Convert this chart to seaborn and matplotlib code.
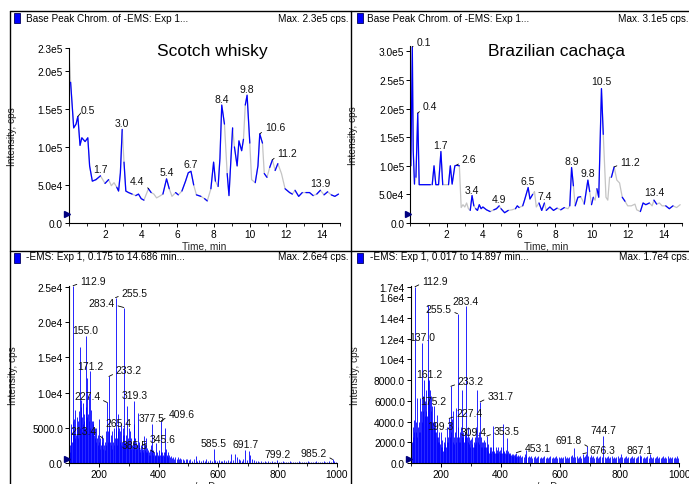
import numpy as np
import pandas as pd
import seaborn as sns
import matplotlib.pyplot as plt
import matplotlib.transforms as mtransforms
from matplotlib.lines import Line2D
from matplotlib.patches import Rectangle
from matplotlib.ticker import FuncFormatter, MultipleLocator

# ---- chromatogram: Scotch whisky ----
whisky_t = [
    0.0, 0.1, 0.2, 0.27, 0.4, 0.5, 0.62, 0.72, 0.9, 1.05,
    1.15, 1.3, 1.5, 1.75, 2.0, 2.2, 2.35, 2.5, 2.65, 2.75,
    2.85, 2.95, 3.05, 3.15, 3.3, 3.5, 3.7, 3.85, 4.0, 4.15,
    4.4, 4.55, 4.7, 4.85, 5.0, 5.2, 5.4, 5.55, 5.7, 5.9,
    6.05, 6.25, 6.45, 6.6, 6.75, 6.9, 7.05, 7.3, 7.5, 7.65,
    7.85, 8.0, 8.1, 8.25, 8.35, 8.45, 8.6, 8.75, 8.85, 9.05,
    9.15, 9.3, 9.4, 9.55, 9.65, 9.75, 9.85, 10.0, 10.1, 10.3,
    10.45, 10.55, 10.7, 10.8, 10.95, 11.1, 11.25, 11.4, 11.55, 11.75,
    11.95, 12.2, 12.35, 12.5, 12.7, 12.9, 13.1, 13.3, 13.5, 13.7,
    13.9, 14.1, 14.3, 14.5, 14.7, 14.9,
]
whisky_i = [
    2.3e5, 1.85e5, 1.5e5, 1.25e5, 1.3e5, 1.4e5, 1.02e5, 1.12e5, 1.07e5, 1.12e5,
    7.5e4, 5.5e4, 5.7e4, 6.2e4, 5.2e4, 5.7e4, 4.9e4, 5.3e4, 4.7e4, 4.2e4,
    6.6e4, 1.23e5, 8.0e4, 4.2e4, 4.0e4, 3.8e4, 3.6e4, 3.8e4, 3.2e4, 3.0e4,
    4.5e4, 4.0e4, 3.8e4, 3.3e4, 3.5e4, 3.8e4, 5.8e4, 4.5e4, 3.5e4, 4.0e4,
    3.7e4, 4.2e4, 5.5e4, 6.6e4, 6.8e4, 5.0e4, 3.7e4, 3.5e4, 3.2e4, 2.9e4,
    4.5e4, 8.0e4, 5.5e4, 4.8e4, 8.5e4, 1.55e5, 1.3e5, 6.5e4, 3.6e4, 1.25e5,
    1.0e5, 7.5e4, 1.08e5, 9.5e4, 1.1e5, 1.55e5, 1.68e5, 1.05e5, 5.7e4, 5.3e4,
    7.5e4, 1.17e5, 1.05e5, 6.5e4, 6.0e4, 7.3e4, 8.3e4, 6.9e4, 7.8e4, 6.5e4,
    4.5e4, 4.0e4, 3.8e4, 4.3e4, 3.5e4, 4.0e4, 4.0e4, 4.0e4, 3.6e4, 3.8e4,
    4.3e4, 3.7e4, 4.1e4, 3.7e4, 3.5e4, 3.8e4,
]
whisky_blue = [(0.1, 1.5), (1.5, 1.75), (2.0, 2.2), (2.65, 2.95), (3.05, 3.5),
               (3.7, 4.15), (4.4, 4.55), (5.2, 5.55), (5.9, 6.05), (6.25, 6.9),
               (7.05, 7.3), (7.5, 7.65), (7.85, 8.1), (8.25, 8.6), (8.75, 9.05),
               (9.15, 9.65), (9.75, 10.0), (10.3, 10.7), (10.8, 10.95), (11.1, 11.25),
               (11.4, 11.55), (11.95, 12.35), (12.5, 12.9), (13.1, 13.5), (13.7, 13.9),
               (14.1, 14.3), (14.5, 14.9)]
whisky_peaks = ["0.5", "1.7", "3.0", "4.4", "5.4", "6.7", "8.4", "9.8", "10.6", "11.2", "13.9"]

# ---- chromatogram: Brazilian cachaca ----
cachaca_t = [
    0.02, 0.1, 0.15, 0.22, 0.3, 0.4, 0.48, 0.7, 0.9, 1.1,
    1.2, 1.3, 1.4, 1.55, 1.68, 1.78, 1.95, 2.1, 2.2, 2.3,
    2.45, 2.55, 2.7, 2.8, 2.9, 3.0, 3.1, 3.2, 3.3, 3.4,
    3.5, 3.6, 3.7, 3.8, 3.9, 4.0, 4.2, 4.4, 4.6, 4.75,
    4.9, 5.0, 5.2, 5.4, 5.6, 5.8, 5.9, 6.0, 6.2, 6.3,
    6.5, 6.6, 6.75, 6.85, 6.95, 7.1, 7.25, 7.4, 7.5, 7.7,
    7.9, 8.1, 8.3, 8.5, 8.7, 8.8, 8.9, 9.0, 9.1, 9.25,
    9.4, 9.5, 9.6, 9.8, 9.9, 10.0, 10.1, 10.2, 10.3, 10.4,
    10.55, 10.65, 10.8, 10.9, 11.0, 11.1, 11.25, 11.4, 11.55, 11.7,
    11.85, 12.0, 12.2, 12.4, 12.5, 12.7, 12.85, 13.0, 13.2, 13.35,
    13.45, 13.6, 13.75, 13.9, 14.1, 14.3, 14.5, 14.7, 14.9,
]
cachaca_i = [
    1.0e5, 3.08e5, 1.27e5, 6.8e4, 8.0e4, 1.92e5, 6.7e4, 6.7e4, 6.7e4, 6.7e4,
    6.7e4, 1.0e5, 6.7e4, 6.7e4, 1.25e5, 6.7e4, 6.7e4, 6.7e4, 1.0e5, 6.8e4,
    1.0e5, 1.01e5, 1.0e5, 2.7e4, 3.2e4, 2.8e4, 3.5e4, 2.5e4, 2.2e4, 4.8e4,
    3.0e4, 2.5e4, 2.2e4, 3.2e4, 2.5e4, 2.8e4, 2.3e4, 2.0e4, 2.3e4, 2.5e4,
    3.0e4, 2.5e4, 1.8e4, 2.2e4, 2.3e4, 2.5e4, 3.0e4, 2.7e4, 3.0e4, 4.0e4,
    6.2e4, 4.2e4, 5.0e4, 5.5e4, 2.8e4, 3.5e4, 2.2e4, 3.5e4, 2.2e4, 2.8e4,
    2.2e4, 2.6e4, 2.3e4, 2.7e4, 2.5e4, 3.0e4, 9.7e4, 6.5e4, 3.0e4, 4.5e4,
    4.6e4, 4.0e4, 3.3e4, 7.5e4, 5.5e4, 3.2e4, 4.5e4, 4.0e4, 6.0e4, 4.5e4,
    2.35e5, 1.55e5, 4.5e4, 4.0e4, 8.0e4, 8.0e4, 9.8e4, 7.5e4, 7.0e4, 4.5e4,
    3.8e4, 3.0e4, 3.0e4, 3.3e4, 2.3e4, 2.0e4, 3.5e4, 3.2e4, 3.5e4, 3.0e4,
    4.0e4, 3.3e4, 3.5e4, 3.0e4, 3.0e4, 2.5e4, 3.0e4, 2.7e4, 3.2e4,
]
cachaca_blue = [(0.02, 0.22), (0.3, 1.1), (1.2, 1.78), (2.1, 2.7), (3.3, 3.5),
                (3.6, 4.4), (4.6, 4.9), (5.0, 5.4), (5.8, 6.0), (6.2, 6.75),
                (7.1, 7.4), (7.5, 8.1), (8.3, 8.5), (8.8, 9.0), (9.1, 9.4),
                (9.6, 9.9), (10.0, 10.1), (10.3, 10.65), (11.1, 11.25), (11.7, 11.85),
                (12.7, 13.2), (13.45, 13.6), (14.1, 14.5)]
cachaca_peaks = ["0.1", "0.4", "1.7", "2.6", "3.4", "4.9", "6.5", "7.4", "8.9", "9.8", "10.5", "11.2", "13.4"]

# ---- mass spectrum: Scotch whisky ----
whisky_mz = [
    101, 103, 105, 107, 109, 111, 112.9, 115, 117, 119,
    121, 123, 125, 127, 129, 131, 133, 135, 137, 139,
    141, 143, 145, 147, 149, 151, 153, 155.0, 157, 159,
    161, 163, 165, 167, 169, 171.2, 173, 175, 177, 179,
    181, 183, 185, 187, 189, 191, 193, 195, 197, 199,
    201, 203, 205, 207, 209, 211, 213.4, 215, 217, 219,
    221, 223, 225, 227.4, 229, 231, 233.2, 235, 237, 239,
    241, 243, 245, 247, 249, 251, 253, 255.5, 257, 259,
    261, 263, 265.4, 267, 269, 271, 273, 275, 277, 279,
    281, 283.4, 285, 287, 289, 291, 293, 295, 297, 299,
    301, 303, 305, 307, 309, 311, 313, 315, 317, 319.3,
    321, 323, 325, 327, 329, 331, 333, 335, 337, 339,
    341, 343, 345.6, 347, 349, 351, 353, 355, 357, 359,
    361, 363, 365, 367, 369, 371, 373, 375, 377.5, 379,
    381, 383, 385.5, 387, 389, 391, 393, 395, 397, 399,
    401, 403, 405, 407, 409.6, 411, 413, 415, 417, 419,
    421, 423, 425, 427, 429, 431, 433, 435, 437, 441,
    445, 449, 453, 457, 461, 465, 469, 473, 477, 483,
    487, 491, 495, 501, 507, 513, 519, 525, 531, 537,
    543, 549, 555, 561, 567, 573, 579, 585.5, 591, 597,
    603, 609, 615, 621, 627, 633, 639, 645, 651, 657,
    663, 669, 675, 681, 685, 691.7, 697, 703, 709, 715,
    721, 727, 733, 739, 745, 751, 757, 763, 769, 775,
    781, 787, 793, 799.2, 805, 811, 817, 823, 829, 835,
    841, 847, 853, 859, 865, 871, 877, 883, 889, 895,
    901, 907, 913, 919, 925, 931, 937, 943, 949, 955,
    961, 967, 973, 979, 985.2, 991, 997,
]
whisky_ms = [
    1500, 2500, 4800, 5500, 3000, 6000, 25200, 4500, 6200, 3500,
    7500, 4000, 6500, 5000, 3500, 6000, 7400, 5000, 16500, 8000,
    9000, 6500, 5500, 8500, 6000, 7000, 5000, 18100, 8000, 6500,
    12100, 7000, 9500, 6000, 5000, 13100, 7500, 6000, 4500, 5500,
    6000, 4000, 3500, 5000, 3000, 5000, 3500, 2500, 4000, 6200,
    3000, 2000, 3500, 2500, 4000, 3000, 3500, 2000, 2500, 1800,
    3000, 2500, 4500, 8600, 3000, 4500, 12300, 5000, 3000, 2500,
    4000, 2000, 4500, 3000, 5000, 2500, 3500, 23500, 5000, 3500,
    2500, 7000, 4500, 5000, 3000, 4500, 2500, 5500, 3000, 4000,
    5000, 22100, 4000, 3000, 2500, 4000, 8100, 3000, 2500, 3500,
    5000, 2500, 4500, 2000, 3500, 2500, 2000, 3000, 5500, 8800,
    3500, 2000, 3000, 2500, 2000, 7100, 3000, 2500, 1500, 2000,
    2500, 1800, 2500, 1500, 2000, 3800, 1800, 2500, 3500, 1500,
    2200, 1500, 1800, 1200, 1500, 1200, 1800, 2500, 5500, 1500,
    1200, 1800, 1500, 1200, 1000, 2800, 1200, 1500, 1000, 1200,
    1800, 1000, 1200, 1500, 6000, 1500, 1000, 1200, 1000, 1500,
    5000, 1500, 2000, 1200, 1000, 1500, 800, 1200, 800, 1000,
    700, 900, 600, 800, 500, 900, 600, 700, 500, 600,
    400, 500, 600, 400, 500, 300, 500, 1000, 300, 400,
    300, 400, 300, 500, 300, 400, 300, 2000, 400, 300,
    400, 300, 300, 400, 300, 400, 300, 1300, 400, 1300,
    900, 500, 400, 300, 500, 1800, 400, 1700, 1200, 500,
    400, 300, 300, 200, 300, 200, 300, 200, 300, 200,
    300, 200, 200, 400, 200, 200, 300, 200, 200, 200,
    300, 200, 200, 200, 200, 300, 200, 200, 200, 200,
    300, 200, 200, 200, 200, 300, 200, 200, 200, 300,
    200, 200, 300, 200, 500, 300, 200,
]
whisky_ms_labels = ["112.9", "155.0", "171.2", "227.4", "233.2", "255.5", "283.4", "265.4",
                    "213.4", "319.3", "345.6", "377.5", "385.5", "409.6", "585.5", "691.7",
                    "799.2", "985.2"]

# ---- mass spectrum: Brazilian cachaca ----
cachaca_mz = [
    101, 103, 105, 107, 109, 111, 112.9, 115, 117, 119,
    121, 123, 125, 127, 129, 131, 133, 135, 137.0, 139,
    141, 143, 145, 147, 149, 151, 153, 155, 157, 159,
    161.2, 163, 165, 167, 169, 171, 173, 175.2, 177, 179,
    181, 183, 185, 187, 189, 191, 193, 195, 197, 199.3,
    201, 203, 205, 207, 209, 211, 213, 215, 217, 219,
    221, 223, 225, 227.4, 229, 231, 233.2, 235, 237, 239,
    241, 243, 245, 247, 249, 251, 253, 255.5, 257, 259,
    261, 263, 265, 267, 269, 271, 273, 275, 277, 279,
    281, 283.4, 285, 287, 289, 291, 293, 295, 297, 299,
    301, 303, 305, 307, 309.4, 311, 313, 315, 317, 319,
    321, 323, 325, 327, 329, 331.7, 333, 335, 337, 339,
    341, 343, 345, 347, 349, 351, 353.5, 355, 357, 359,
    361, 363, 365, 367, 369, 371, 373, 375, 377, 379,
    381, 383, 385, 387, 389, 391, 393, 395, 397, 399,
    401, 403, 405, 407, 409, 411, 413, 415, 417, 419,
    421, 423, 425, 427, 429, 431, 433, 435, 437, 439,
    441, 443, 445, 447, 449, 451, 453.1, 455, 457, 459,
    461, 465, 469, 473, 477, 481, 484, 487, 491, 495,
    499, 503, 507, 511, 515, 519, 523, 527, 531, 535,
    539, 543, 547, 551, 555, 559, 563, 567, 571, 575,
    579, 583, 587, 591, 595, 599, 603, 607, 611, 615,
    619, 623, 627, 631, 635, 639, 643, 648, 651, 655,
    659, 663, 667, 671, 676.3, 679, 683, 687, 691.8, 695,
    699, 703, 707, 711, 715, 719, 723, 727, 731, 735,
    739, 744.7, 749, 753, 757, 761, 765, 769, 773, 777,
    781, 785, 789, 793, 797, 801, 805, 809, 813, 817,
    821, 825, 829, 833, 837, 841, 845, 849, 853, 857,
    861, 867.1, 869, 873, 877, 881, 885, 889, 893, 897,
    901, 905, 909, 913, 917, 921, 925, 929, 933, 937,
    941, 945, 949, 953, 957, 961, 965, 969, 973, 977,
    981, 985, 989, 993, 997,
]
cachaca_ms = [
    1500, 2000, 3500, 2500, 4100, 3000, 17000, 3000, 4000, 2500,
    6300, 3500, 3000, 4000, 6300, 3000, 5000, 4000, 11600, 5000,
    6500, 8000, 4500, 6000, 5000, 7000, 4500, 15200, 8200, 6000,
    8000, 7000, 5000, 6500, 4000, 5500, 4000, 5500, 3500, 3000,
    4000, 3000, 2500, 4600, 2500, 2000, 3000, 2000, 1800, 3000,
    1500, 2200, 1500, 1200, 2000, 1500, 1800, 2500, 1500, 2000,
    3500, 2000, 2500, 4300, 2500, 4000, 7400, 3000, 4200, 2000,
    5000, 2500, 1800, 3000, 2000, 5300, 2500, 14400, 3500, 2000,
    2500, 3000, 2000, 3500, 2500, 7000, 2500, 3000, 2000, 3000,
    2500, 15100, 3000, 2500, 3500, 2000, 2500, 1800, 2200, 1500,
    2300, 1800, 2500, 1500, 2000, 1500, 2500, 1800, 2000, 3500,
    7000, 2500, 2000, 1800, 3000, 5900, 2500, 1500, 2000, 1500,
    2000, 1500, 2200, 1500, 2000, 1500, 2600, 1500, 1200, 1800,
    1000, 1500, 1200, 1000, 1500, 1200, 3600, 1500, 1000, 1200,
    1000, 1500, 1000, 1300, 1000, 1500, 1000, 1200, 1000, 1300,
    1000, 1500, 1000, 3800, 1500, 1000, 1200, 1000, 1300, 900,
    2400, 1000, 1200, 900, 1000, 800, 1000, 800, 900, 700,
    900, 700, 800, 700, 900, 600, 1000, 700, 800, 600,
    700, 800, 600, 700, 600, 900, 1300, 700, 600, 700,
    600, 700, 500, 600, 700, 500, 600, 700, 500, 600,
    500, 600, 700, 500, 600, 500, 600, 700, 500, 600,
    500, 600, 700, 500, 600, 500, 600, 500, 600, 700,
    500, 600, 500, 600, 700, 800, 600, 1400, 600, 700,
    500, 600, 700, 500, 900, 600, 700, 900, 1600, 700,
    600, 800, 600, 700, 500, 600, 700, 500, 600, 700,
    600, 2570, 600, 500, 600, 700, 500, 600, 700, 500,
    600, 500, 600, 700, 500, 600, 900, 600, 500, 600,
    700, 500, 600, 500, 600, 700, 500, 600, 500, 600,
    700, 800, 600, 700, 500, 600, 500, 600, 700, 500,
    900, 600, 500, 600, 500, 600, 700, 500, 600, 500,
    600, 700, 500, 600, 500, 700, 500, 600, 500, 600,
    500, 600, 500, 700, 500,
]
cachaca_ms_labels = ["112.9", "137.0", "161.2", "175.2", "199.3", "227.4", "233.2", "255.5",
                     "283.4", "309.4", "331.7", "353.5", "453.1", "676.3", "691.8", "744.7",
                     "867.1"]

# label offsets in pixels (dx>0: text right of peak with leader, dx<0: left with leader, 0: centred)
whisky_off = [(3, 6), (0, 7), (0, 6), (-4, 8), (0, 7), (0, 7), (0, 6), (0, 6), (5, 7), (5, 7), (0, 7)]
cachaca_off = [(4, 5), (5, 7), (0, 7), (5, 6), (0, 6), (0, 7), (0, 7), (0, 7), (0, 7), (0, 7),
               (0, 8), (6, 5), (0, 8)]
whisky_ms_off = [(7, 5), (0, 6), (0, 5), (-7, 6), (7, 6), (6, 5), (-9, 5), (0, 8), (-6, 7),
                 (0, 6), (7, 6), (0, 6), (-7, 7), (7, 7), (0, 6), (0, 6), (0, 6), (-6, 6)]
cachaca_ms_off = [(7, 6), (0, 6), (0, 6), (0, 5), (0, 6), (7, 5), (7, 5), (-6, 5), (0, 5),
                  (0, 10), (7, 6), (7, 5), (8, 5), (7, 4), (-6, 6), (0, 6), (0, 5)]

BLUE = "#0000FF"
GRAY = "#C4C4C4"
W, H = 689, 485

sns.set_style("white")
plt.rcParams['font.family'] = ['Liberation Sans', 'DejaVu Sans']

fig = plt.figure(figsize=(W / 100, H / 100), dpi=100)


def box(l, r, t, b):
    return [l / W, 1 - b / H, (r - l) / W, (b - t) / H]


def fmt(v, pos):
    if v == 0:
        return "0.0"
    if v < 1e4:
        return f"{v:.1f}"
    m, e = f"{v:.1e}".split("e")
    return f"{m}e{int(e)}"


def style_axes(ax, xlim, ylim, xmajor, xminor, yticks, xlabel):
    ax.set_xlim(*xlim)
    ax.set_ylim(*ylim)
    ax.set_xticks(xmajor)
    ax.xaxis.set_minor_locator(MultipleLocator(xminor))
    ax.set_yticks(yticks)
    ax.yaxis.set_major_formatter(FuncFormatter(fmt))
    for s in ["top", "right"]:
        ax.spines[s].set_visible(False)
    for s in ["left", "bottom"]:
        ax.spines[s].set_color("black")
        ax.spines[s].set_linewidth(0.8)
    ax.tick_params(axis="both", which="major", direction="out", length=3, width=0.7,
                   labelsize=7.3, colors="black", pad=1.5)
    ax.tick_params(axis="x", which="minor", direction="out", length=2, width=0.6, color="black")
    ax.tick_params(axis="x", which="both", bottom=True)
    ax.tick_params(axis="y", which="both", left=True)
    ax.set_xlabel(xlabel, fontsize=7.3, labelpad=1)
    ax.set_ylabel("Intensity, cps", fontsize=7.3)
    ax.yaxis.set_label_coords(-0.192, 0.5)


def draw_chrom(ax, t, inten, blue_ranges):
    df = pd.DataFrame({"t": t, "i": inten})
    sns.lineplot(data=df, x="t", y="i", ax=ax, color=GRAY, lw=0.9, estimator=None, sort=False)
    parts = []
    for k, (a, b) in enumerate(blue_ranges):
        seg = df[(df.t >= a - 1e-9) & (df.t <= b + 1e-9)].copy()
        seg["seg"] = k
        parts.append(seg)
    blue_df = pd.concat(parts)
    sns.lineplot(data=blue_df, x="t", y="i", units="seg", ax=ax, color=BLUE, lw=0.9,
                 estimator=None, sort=False)


def annotate(ax, x, y, text, off):
    dx, dy = off
    if dx == 0:
        ax.annotate(text, (x, y), xytext=(0, dy), textcoords="offset pixels",
                    ha="center", va="center", fontsize=7.5, color="#111111")
    else:
        ha = "left" if dx > 0 else "right"
        rel = (0.0, 0.25) if dx > 0 else (1.0, 0.25)
        ax.annotate(text, (x, y), xytext=(dx, dy), textcoords="offset pixels",
                    ha=ha, va="center", fontsize=7.5, color="#111111",
                    arrowprops=dict(arrowstyle="-", lw=0.6, color="black",
                                    shrinkA=0, shrinkB=0, relpos=rel))


def label_chrom(ax, t, inten, labels, offs):
    t = np.asarray(t)
    inten = np.asarray(inten)
    for text, off in zip(labels, offs):
        c = float(text)
        idx = np.where(np.abs(t - c) <= 0.15 + 1e-9)[0]
        j = idx[np.argmax(inten[idx])]
        annotate(ax, t[j], inten[j], text, off)


def label_ms(ax, mz, inten, labels, offs):
    mz = np.asarray(mz, dtype=float)
    for text, off in zip(labels, offs):
        j = int(np.argmin(np.abs(mz - float(text))))
        annotate(ax, mz[j], inten[j], text, off)


def base_marker(ax, level):
    trans = mtransforms.blended_transform_factory(ax.transAxes, ax.transData)
    ax.plot([-0.008], [level], marker=">", ms=4, color="#000080", transform=trans,
            clip_on=False, zorder=5)


# axes
ax_tl = fig.add_axes(box(68.8, 340.3, 49, 224))
ax_tr = fig.add_axes(box(410.5, 682.0, 46.7, 224))
ax_bl = fig.add_axes(box(69.25, 337.0, 286.7, 464))
ax_br = fig.add_axes(box(411.2, 679.3, 286.7, 464))

draw_chrom(ax_tl, whisky_t, whisky_i, whisky_blue)
style_axes(ax_tl, (0, 15), (0, 2.3e5), range(2, 15, 2), 1,
           [0, 5e4, 1e5, 1.5e5, 2e5, 2.3e5], "Time, min")
label_chrom(ax_tl, whisky_t, whisky_i, whisky_peaks, whisky_off)
base_marker(ax_tl, 1.2e4)
ax_tl.text(0.527, 0.985, "Scotch whisky", transform=ax_tl.transAxes, fontsize=12.5,
           ha="center", va="center", color="black")

draw_chrom(ax_tr, cachaca_t, cachaca_i, cachaca_blue)
style_axes(ax_tr, (0, 15), (0, 3.1e5), range(2, 15, 2), 1,
           [0, 5e4, 1e5, 1.5e5, 2e5, 2.5e5, 3e5], "Time, min")
label_chrom(ax_tr, cachaca_t, cachaca_i, cachaca_peaks, cachaca_off)
base_marker(ax_tr, 1.6e4)
ax_tr.text(0.536, 0.972, "Brazilian cachaça", transform=ax_tr.transAxes, fontsize=12.5,
           ha="center", va="center", color="black")

ax_bl.vlines(whisky_mz, 0, whisky_ms, color=BLUE, lw=0.6)
style_axes(ax_bl, (100, 1000), (0, 2.52e4), [200, 400, 600, 800, 1000], 100,
           [0, 5000, 1e4, 1.5e4, 2e4, 2.5e4], "m/z, Da")
label_ms(ax_bl, whisky_mz, whisky_ms, whisky_ms_labels, whisky_ms_off)
base_marker(ax_bl, 500)

ax_br.vlines(cachaca_mz, 0, cachaca_ms, color=BLUE, lw=0.6)
style_axes(ax_br, (100, 1000), (0, 1.71e4), [200, 400, 600, 800, 1000], 100,
           [0, 2000, 4000, 6000, 8000, 1e4, 1.2e4, 1.4e4, 1.6e4, 1.7e4], "m/z, Da")
label_ms(ax_br, cachaca_mz, cachaca_ms, cachaca_ms_labels, cachaca_ms_off)
base_marker(ax_br, 400)

# window frame lines
def px_line(x0, y0, x1, y1):
    fig.add_artist(Line2D([x0 / W, x1 / W], [1 - y0 / H, 1 - y1 / H], color="black", lw=1.0))

px_line(10, 12, 10, H)
px_line(10, 12, W, 12)
px_line(351, 12, 351, H)
px_line(10, 252, W, 252)

# pane headers
headers = [
    (14, 14, 26, 19.5, "Base Peak Chrom. of -EMS: Exp 1...", 349, "Max. 2.3e5 cps.", "right"),
    (357, 14, 367, 19.5, "Base Peak Chrom. of -EMS: Exp 1...", 618.5, "Max. 3.1e5 cps.", "left"),
    (14, 253.5, 26.5, 257.5, "-EMS: Exp 1, 0.175 to 14.686 min...", 349, "Max. 2.6e4 cps.", "right"),
    (357, 253.5, 370, 257.5, "-EMS: Exp 1, 0.017 to 14.897 min...", 619, "Max. 1.7e4 cps.", "left"),
]
for sx, sy, tx, ty, left_text, rx, right_text, rha in headers:
    fig.add_artist(Rectangle((sx / W, 1 - (sy + 10) / H), 6 / W, 10 / H, transform=fig.transFigure,
                             facecolor=BLUE, edgecolor="#000060", lw=0.6))
    fig.text(tx / W, 1 - ty / H, left_text, fontsize=7.2, ha="left", va="center", color="black")
    fig.text(rx / W, 1 - ty / H, right_text, fontsize=7.2, ha=rha, va="center", color="black")

fig.savefig("out.png", dpi=100)
